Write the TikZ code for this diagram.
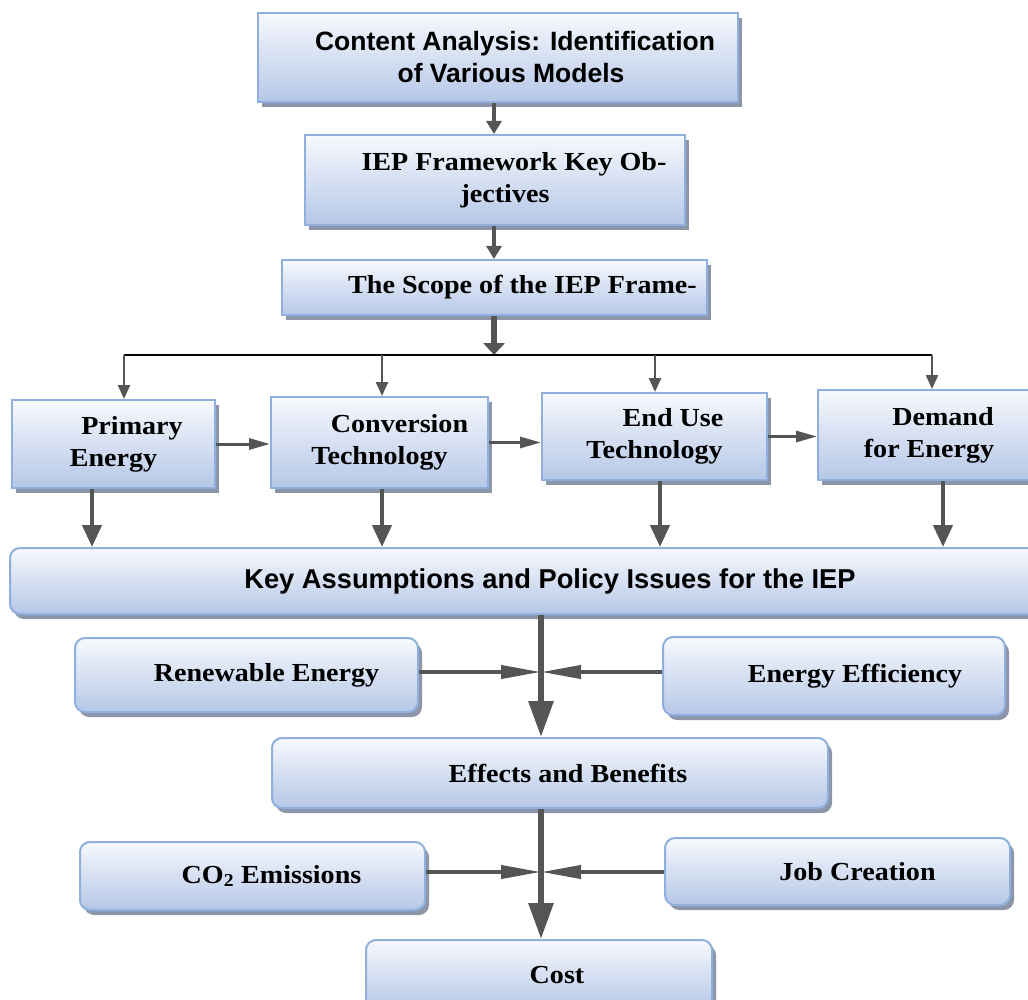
\documentclass[tikz,border=0pt]{standalone}
\usepackage{fontspec}
\usepackage{tikz}
\usetikzlibrary{arrows.meta}
\usetikzlibrary{shadows}
\usepackage{xcolor}

\newfontfamily\boxserif[FakeStretch=1.08]{Liberation Serif}
\newfontfamily\boxsans{Liberation Sans}
\newcommand{\ind}[1]{\hspace*{#1pt}}

\definecolor{boxline}{HTML}{8FB0DE}
\definecolor{boxtop}{HTML}{F7F9FD}
\definecolor{boxbot}{HTML}{B5C7E7}
\definecolor{shadowc}{HTML}{8C96A8}
\definecolor{arrgray}{HTML}{555555}

\tikzset{
	box/.style={draw=boxline, line width=2pt, top color=boxtop, bottom color=boxbot,
		drop shadow={shadow xshift=4pt, shadow yshift=-5pt, fill=shadowc, opacity=1},
		inner sep=0pt, align=center,
		font=\boxserif\bfseries\fontsize{26}{32}\selectfont},
	rbox/.style={box, rounded corners=10pt},
	sansbox/.style={font=\boxsans\bfseries\fontsize{26.5}{32}\selectfont},
	arr/.style={draw=arrgray, line width=4pt, -{Triangle[length=13pt,width=15pt]}},
	bigarr/.style={draw=arrgray, line width=6pt, -{Triangle[length=36pt,width=24pt]}},
	toparr/.style={draw=arrgray, line width=6pt, -{Triangle[length=12pt,width=21pt]}},
	brarr/.style={draw=arrgray, line width=2.5pt, -{Triangle[length=14pt,width=12pt]}},
	rowarr/.style={draw=arrgray, line width=3pt, -{Triangle[length=21pt,width=11pt]}},
	downarr/.style={draw=arrgray, line width=4.5pt, -{Triangle[length=22pt,width=19pt]}},
	harr/.style={draw=arrgray, line width=4pt, -{Triangle[length=40pt,width=13pt]}}
}

\begin{document}
\begin{tikzpicture}[x=1pt, y=-1pt]
		\useasboundingbox (0,0) rectangle (1028,1000);

		\node (b1) [box, sansbox, minimum width=480, minimum height=89] at (498, 57.5)
			{\ind{34}Content Analysis: Identification\\ \ind{26}of Various Models};
		\node (b2) [box, minimum width=380, minimum height=90] at (495, 180)
			{\ind{38}IEP Framework Key Ob-\\ \ind{20}jectives};
		\node (b3) [box, minimum width=425, minimum height=55] at (494.5, 287.5)
			{\ind{56}The Scope of the IEP Frame-};

		\node (prim) [box, minimum width=203, minimum height=88] at (113.5, 444)
			{\ind{37}Primary\\ Energy};
		\node (conv) [box, minimum width=217, minimum height=91] at (379.5, 442.5)
			{\ind{40}Conversion\\ Technology};
		\node (use) [box, minimum width=225, minimum height=87] at (654.5, 436.5)
			{\ind{37}End Use\\ Technology};
		\node (dem) [box, minimum width=222, minimum height=90] at (929, 435)
			{\ind{28}Demand\\ for Energy};

		\node (key) [rbox, sansbox, minimum width=1030, minimum height=66, font=\boxsans\bfseries\fontsize{27.3}{32}\selectfont] at (525, 581)
			{\ind{50}Key Assumptions and Policy Issues for the IEP};

		\node (ren) [rbox, minimum width=343, minimum height=74] at (246.5, 675)
			{\ind{40}Renewable Energy};
		\node (effi) [rbox, minimum width=342, minimum height=78] at (834, 676)
			{\ind{42}Energy Efficiency};
		\node (eff) [rbox, minimum width=556, minimum height=70] at (550, 773)
			{\ind{36}Effects and Benefits};
		\node (co2) [rbox, minimum width=345, minimum height=68] at (252.5, 876)
			{\ind{38}CO\textsubscript{2} Emissions};
		\node (job) [rbox, minimum width=345, minimum height=67] at (837.5, 871.5)
			{\ind{40}Job Creation};
		\node (cost) [rbox, minimum width=346, minimum height=70] at (539, 975)
			{\ind{36}Cost};

		\coordinate (spl) at (494, 355);
		\coordinate (brA) at (124, 355);
		\coordinate (brB) at (382, 355);
		\coordinate (brC) at (655, 355);
		\coordinate (brD) at (932, 355);
		\coordinate (j1) at (541, 672);
		\coordinate (j2) at (541, 872);

		\draw [arr] (b1.south -| spl) -- (b2.north -| spl);
		\draw [arr] (b2.south -| spl) -- (b3.north -| spl);
		\draw [toparr] (b3.south -| spl) -- (spl);

		\draw [line width=2pt] (brA) -- (brD);
		\draw [brarr] (brA) -- (brA |- prim.north);
		\draw [brarr] (brB) -- (brB |- conv.north);
		\draw [brarr] (brC) -- (brC |- use.north);
		\draw [brarr] (brD) -- (brD |- dem.north);

		\draw [rowarr] (prim.east) -- (prim.east -| conv.west);
		\draw [rowarr] (conv.east) -- (conv.east -| use.west);
		\draw [rowarr] (use.east) -- (use.east -| dem.west);

		\draw [downarr] ([xshift=-21.5pt]prim.south) -- ([xshift=-21.5pt]prim.south |- key.north);
		\draw [downarr] ([xshift=2.5pt]conv.south) -- ([xshift=2.5pt]conv.south |- key.north);
		\draw [downarr] ([xshift=5.5pt]use.south) -- ([xshift=5.5pt]use.south |- key.north);
		\draw [downarr] ([xshift=14pt]dem.south) -- ([xshift=14pt]dem.south |- key.north);

		\draw [bigarr] (key.south -| j1) -- (eff.north -| j1);
		\draw [harr] (ren.east |- j1) -- (j1);
		\draw [harr] (effi.west |- j1) -- (j1);

		\draw [bigarr] (eff.south -| j2) -- (cost.north -| j2);
		\draw [harr] (co2.east |- j2) -- (j2);
		\draw [harr] (job.west |- j2) -- (j2);
	\end{tikzpicture}
\end{document}
